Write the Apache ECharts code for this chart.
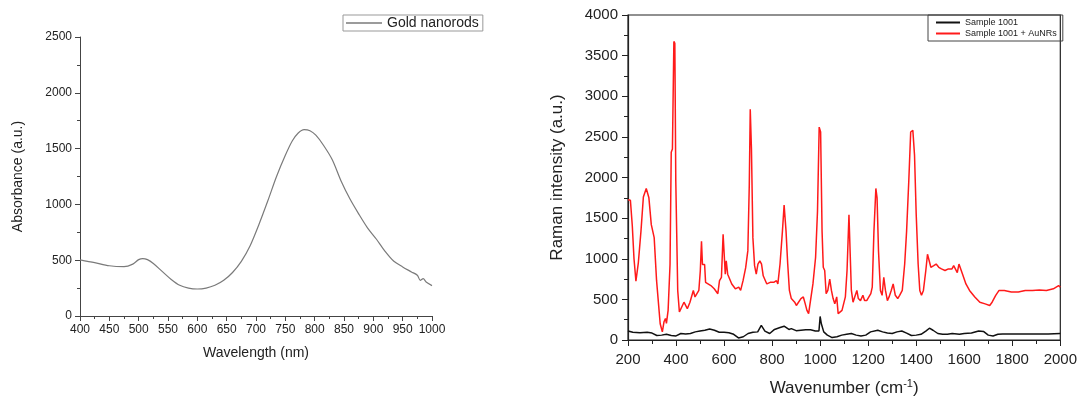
<!DOCTYPE html>
<html>
<head>
<meta charset="utf-8">
<script src="https://cdn.jsdelivr.net/npm/echarts@6/dist/echarts.min.js"></script>
<style>
  html, body { margin: 0; padding: 0; background: #fff; }
  #main { width: 1080px; height: 403px; }
</style>
</head>
<body>
<div id="main"></div>
<script>
// left panel: UV-vis absorbance of gold nanorods
const absWavelength = [400, 425, 450, 475, 490, 500, 507, 515, 525, 540, 555, 570, 585, 600, 615, 630, 645, 660, 675, 690, 705, 720, 735, 750, 762, 772, 782, 792, 802, 815, 830, 845, 860, 875, 890, 905, 920, 935, 950, 965, 975, 980, 985, 990, 1000]
const absValues = [503, 478, 450, 442, 465, 505, 515, 505, 470, 400, 330, 275, 250, 242, 250, 275, 320, 390, 490, 630, 820, 1030, 1250, 1440, 1570, 1640, 1670, 1660, 1620, 1530, 1400, 1210, 1050, 915, 790, 690, 580, 490, 440, 395, 365, 320, 335, 305, 272]

// right panel: Raman spectra
const redWavenumber = [200, 210, 218, 225, 233, 243, 254, 264, 276, 287, 297, 305, 309, 319, 334, 343, 350, 356, 360, 367, 375, 380, 385, 391, 395, 399, 407, 414, 421, 433, 439, 447, 458, 465, 472, 479, 487, 495, 501, 506, 510, 516, 519, 523, 530, 545, 559, 574, 581, 589, 596, 600, 605, 609, 615, 621, 632, 647, 654, 661, 669, 679, 690, 699, 705, 709, 714, 720, 727, 734, 741, 749, 756, 763, 778, 792, 807, 818, 824, 833, 843, 850, 858, 865, 872, 880, 894, 901, 909, 920, 930, 938, 945, 952, 960, 970, 981, 989, 996, 1002, 1008, 1013, 1019, 1025, 1032, 1040, 1047, 1054, 1061, 1069, 1075, 1083, 1091, 1098, 1105, 1112, 1120, 1124, 1130, 1137, 1144, 1153, 1159, 1168, 1178, 1185, 1194, 1203, 1211, 1217, 1224, 1232, 1237, 1243, 1251, 1258, 1265, 1272, 1280, 1287, 1296, 1304, 1313, 1323, 1331, 1342, 1352, 1360, 1369, 1377, 1386, 1393, 1400, 1408, 1415, 1422, 1430, 1440, 1447, 1454, 1461, 1473, 1483, 1494, 1505, 1520, 1534, 1549, 1556, 1563, 1571, 1578, 1585, 1593, 1607, 1622, 1644, 1665, 1687, 1706, 1716, 1731, 1745, 1767, 1796, 1825, 1854, 1884, 1913, 1942, 1971, 1993, 2000]
const redIntensity = [1725, 1720, 1400, 1000, 725, 950, 1340, 1760, 1865, 1750, 1420, 1400, 1260, 730, 200, 100, 225, 265, 205, 365, 930, 2310, 2350, 3675, 3650, 1950, 610, 345, 365, 465, 465, 385, 465, 445, 610, 530, 570, 610, 850, 1215, 930, 910, 930, 710, 690, 670, 630, 570, 730, 770, 1300, 1300, 810, 975, 810, 810, 690, 630, 610, 650, 610, 730, 890, 1100, 1910, 2840, 2350, 1260, 915, 810, 935, 975, 935, 790, 690, 710, 710, 730, 690, 935, 1340, 1660, 1340, 935, 610, 510, 465, 425, 445, 510, 530, 445, 365, 325, 345, 690, 1015, 1585, 2620, 2560, 1340, 895, 855, 570, 610, 750, 610, 510, 445, 530, 325, 345, 365, 385, 530, 855, 1540, 1540, 610, 465, 530, 610, 510, 485, 550, 485, 485, 530, 570, 650, 1340, 1865, 1750, 1095, 610, 550, 770, 610, 485, 530, 610, 690, 550, 510, 550, 610, 935, 1340, 1950, 2560, 2580, 2275, 1545, 935, 610, 550, 610, 855, 1055, 1035, 895, 915, 935, 895, 875, 855, 875, 875, 915, 895, 830, 935, 955, 810, 690, 610, 530, 465, 445, 425, 465, 550, 610, 610, 590, 590, 610, 610, 615, 610, 630, 670, 650]

const blackWavenumber = [200, 220, 250, 280, 300, 320, 340, 360, 380, 400, 420, 440, 460, 480, 500, 520, 540, 560, 580, 600, 620, 640, 660, 680, 700, 720, 740, 755, 770, 790, 810, 830, 850, 870, 880, 900, 920, 940, 960, 980, 995, 1000, 1005, 1015, 1030, 1050, 1070, 1090, 1110, 1130, 1150, 1170, 1190, 1210, 1240, 1260, 1280, 1300, 1320, 1340, 1360, 1380, 1400, 1420, 1440, 1455, 1470, 1490, 1510, 1530, 1550, 1580, 1600, 1630, 1660, 1680, 1700, 1720, 1740, 1760, 1800, 1850, 1900, 1950, 2000]
const blackIntensity = [110, 95, 90, 95, 85, 55, 60, 70, 55, 50, 80, 75, 80, 100, 110, 120, 135, 120, 95, 95, 90, 70, 25, 40, 80, 95, 100, 180, 110, 80, 130, 150, 170, 130, 140, 115, 120, 125, 125, 110, 110, 290, 200, 100, 60, 30, 40, 60, 70, 80, 60, 50, 60, 100, 120, 100, 85, 80, 100, 110, 85, 55, 60, 70, 110, 145, 120, 80, 70, 70, 80, 70, 80, 85, 110, 105, 60, 50, 70, 75, 75, 75, 75, 75, 80]

const pairs = (xs, ys) => xs.map((x, i) => [x, ys[i]])
const plain = v => String(v)

const font = 'Liberation Sans, Arial, sans-serif'
const chart = echarts.init(document.getElementById('main'))

const option = {
  animation: false,
  textStyle: { fontFamily: font },
  grid: [
    { left: 80, top: 37, width: 352, height: 279 },
    { left: 628, top: 15, width: 435, height: 328, show: true, borderColor: '#222', borderWidth: 1.2 }
  ],
  legend: [
    {
      data: ['Gold nanorods'],
      left: 343, top: 15,
      itemWidth: 36, itemHeight: 1.5, icon: 'rect', itemGap: 4,
      borderColor: '#999', borderWidth: 1, padding: [1, 4, 1, 3],
      textStyle: { fontSize: 14, color: '#222', fontFamily: font }
    },
    {
      data: ['Sample 1001', 'Sample 1001 + AuNRs'],
      orient: 'vertical',
      left: 928, top: 15,
      itemWidth: 24, itemHeight: 2, itemGap: 2, icon: 'rect',
      borderColor: '#444', borderWidth: 1, padding: [3, 6, 3, 8],
      textStyle: { fontSize: 9, color: '#222', fontFamily: font }
    }
  ],
  xAxis: [
    {
      gridIndex: 0, type: 'value', min: 400, max: 1000, interval: 50,
      name: 'Wavelength (nm)', nameLocation: 'middle', nameGap: 30,
      nameTextStyle: { fontSize: 14, color: '#222' },
      axisLine: { lineStyle: { color: '#444', width: 1 } },
      axisTick: { length: 5, lineStyle: { color: '#444' } },
      minorTick: { show: true, splitNumber: 2, length: 3, lineStyle: { color: '#444' } },
      axisLabel: { fontSize: 12, color: '#222', margin: 8, formatter: plain },
      splitLine: { show: false }
    },
    {
      gridIndex: 1, type: 'value', min: 200, max: 2000, interval: 200,
      name: 'Wavenumber (cm{sup|-1})', nameLocation: 'middle', nameGap: 38,
      nameTextStyle: { fontSize: 17, color: '#222', lineHeight: 20, rich: { sup: { fontSize: 11, verticalAlign: 'top', lineHeight: 11, color: '#222' } } },
      axisLine: { lineStyle: { color: '#222', width: 1.2 } },
      axisTick: { length: 6, lineStyle: { color: '#222' } },
      minorTick: { show: true, splitNumber: 2, length: 4, lineStyle: { color: '#222' } },
      axisLabel: { fontSize: 15, color: '#222', margin: 12, formatter: plain },
      splitLine: { show: false }
    }
  ],
  yAxis: [
    {
      gridIndex: 0, type: 'value', min: 0, max: 2500, interval: 500,
      name: 'Absorbance (a.u.)', nameLocation: 'middle', nameGap: 55,
      nameTextStyle: { fontSize: 14, color: '#222' },
      axisLine: { show: true, lineStyle: { color: '#444', width: 1 } },
      axisTick: { show: true, length: 5, lineStyle: { color: '#444' } },
      minorTick: { show: true, splitNumber: 2, length: 3, lineStyle: { color: '#444' } },
      axisLabel: { fontSize: 12, color: '#222', margin: 8, formatter: plain },
      splitLine: { show: false }
    },
    {
      gridIndex: 1, type: 'value', min: 0, max: 4000, interval: 500,
      name: 'Raman intensity (a.u.)', nameLocation: 'middle', nameGap: 62,
      nameTextStyle: { fontSize: 17, color: '#222' },
      axisLine: { show: true, lineStyle: { color: '#222', width: 1.2 } },
      axisTick: { show: true, length: 6, lineStyle: { color: '#222' } },
      minorTick: { show: true, splitNumber: 2, length: 4, lineStyle: { color: '#222' } },
      axisLabel: { fontSize: 15, color: '#222', margin: 10, formatter: plain },
      splitLine: { show: false }
    }
  ],
  series: [
    {
      name: 'Gold nanorods', type: 'line', xAxisIndex: 0, yAxisIndex: 0,
      data: pairs(absWavelength, absValues),
      showSymbol: false, smooth: 0.3,
      color: '#7a7a7a', lineStyle: { color: '#7a7a7a', width: 1.2 }
    },
    {
      name: 'Sample 1001', type: 'line', xAxisIndex: 1, yAxisIndex: 1,
      data: pairs(blackWavenumber, blackIntensity),
      showSymbol: false,
      color: '#111', lineStyle: { color: '#111', width: 1.5 }
    },
    {
      name: 'Sample 1001 + AuNRs', type: 'line', xAxisIndex: 1, yAxisIndex: 1,
      data: pairs(redWavenumber, redIntensity),
      showSymbol: false,
      color: '#ff1a1a', lineStyle: { color: '#ff1a1a', width: 1.5 }
    }
  ]
}

chart.setOption(option)
</script>
</body>
</html>
